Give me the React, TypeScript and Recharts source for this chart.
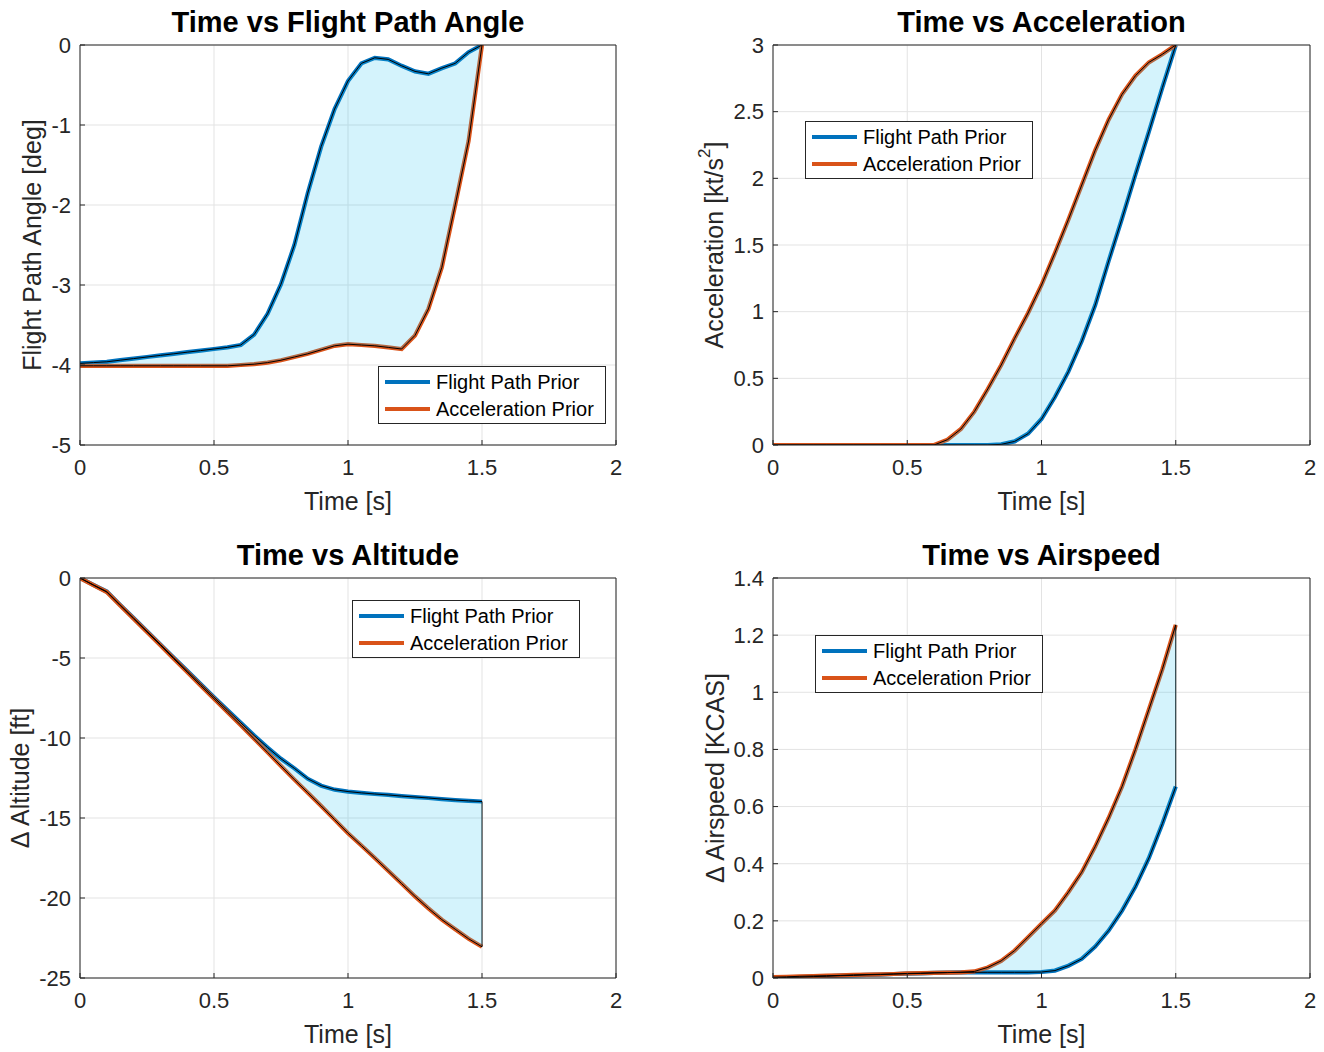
import { ReactNode } from 'react';
import {
  ComposedChart,
  Line,
  Area,
  XAxis,
  YAxis,
  CartesianGrid,
  ReferenceLine,
  Legend
} from 'recharts';

// time samples [s]
const TIME = [
  0, 0.05, 0.1, 0.15, 0.2, 0.25, 0.3, 0.35, 0.4, 0.45, 0.5, 0.55, 0.6, 0.65, 0.7, 0.75,
  0.8, 0.85, 0.9, 0.95, 1, 1.05, 1.1, 1.15, 1.2, 1.25, 1.3, 1.35, 1.4, 1.45, 1.5
];

// flight path angle [deg]
const FPA_FLIGHT = [
  -3.98, -3.97, -3.96, -3.94, -3.92, -3.9, -3.88, -3.86, -3.84, -3.82, -3.8, -3.78, -3.75,
  -3.62, -3.36, -2.99, -2.5, -1.85, -1.27, -0.8, -0.45, -0.23, -0.16, -0.18, -0.26, -0.33,
  -0.36, -0.29, -0.23, -0.09, 0
];
const FPA_ACCEL = [
  -4.01, -4.01, -4.01, -4.01, -4.01, -4.01, -4.01, -4.01, -4.01, -4.01, -4.01, -4.01, -4.0,
  -3.99, -3.97, -3.94, -3.9, -3.86, -3.81, -3.76, -3.74, -3.75, -3.76, -3.78, -3.8, -3.63,
  -3.3, -2.78, -2.0, -1.2, 0
];

// acceleration [kt/s^2]
const ACC_FLIGHT = [
  0, 0, 0, 0, 0, 0, 0, 0, 0, 0, 0, 0, 0, 0, 0, 0, 0, 0.005, 0.027, 0.085, 0.195, 0.36, 0.55,
  0.78, 1.05, 1.38, 1.7, 2.03, 2.35, 2.68, 3.0
];
const ACC_ACCEL = [
  0, 0, 0, 0, 0, 0, 0, 0, 0, 0, 0, 0, 0, 0.04, 0.12, 0.25, 0.42, 0.6, 0.8, 0.99, 1.2, 1.44,
  1.69, 1.95, 2.21, 2.44, 2.63, 2.77, 2.87, 2.93, 3.0
];

// delta altitude [ft]
const ALT_FLIGHT = [
  0, -0.43, -0.85, -1.68, -2.5, -3.33, -4.15, -4.98, -5.8, -6.62, -7.45, -8.25, -9.05, -9.85,
  -10.6, -11.3, -11.9, -12.55, -12.98, -13.23, -13.35, -13.43, -13.5, -13.56, -13.63, -13.69,
  -13.75, -13.82, -13.88, -13.93, -13.97
];
const ALT_ACCEL = [
  0, -0.45, -0.88, -1.72, -2.55, -3.38, -4.2, -5.05, -5.88, -6.72, -7.55, -8.38, -9.2, -10.05,
  -10.9, -11.75, -12.6, -13.42, -14.25, -15.1, -15.95, -16.72, -17.5, -18.3, -19.1, -19.9,
  -20.65, -21.35, -21.95, -22.55, -23.05
];

// delta airspeed [KCAS]
const SPD_FLIGHT = [
  0, 0.002, 0.003, 0.005, 0.006, 0.008, 0.009, 0.011, 0.012, 0.014, 0.015, 0.016, 0.018, 0.019,
  0.02, 0.02, 0.02, 0.02, 0.02, 0.02, 0.021, 0.026, 0.043, 0.067, 0.11, 0.166, 0.236, 0.32,
  0.42, 0.54, 0.67
];
const SPD_ACCEL = [
  0.003, 0.004, 0.006, 0.007, 0.008, 0.009, 0.011, 0.012, 0.013, 0.014, 0.016, 0.017, 0.018,
  0.019, 0.02, 0.023, 0.037, 0.06, 0.096, 0.143, 0.19, 0.236, 0.3, 0.37, 0.46, 0.56, 0.67, 0.8,
  0.94, 1.08, 1.236
];

const X_TICKS = [0, 0.5, 1, 1.5, 2];
const FPA_TICKS = [-5, -4, -3, -2, -1, 0];
const ACC_TICKS = [0, 0.5, 1, 1.5, 2, 2.5, 3];
const ALT_TICKS = [-25, -20, -15, -10, -5, 0];
const SPD_TICKS = [0, 0.2, 0.4, 0.6, 0.8, 1, 1.2, 1.4];

const SERIES = [
  { key: 'fp', name: 'Flight Path Prior', color: '#0072BD' },
  { key: 'ac', name: 'Acceleration Prior', color: '#D95319' }
];

const FONT = '"Liberation Sans", Arial, Helvetica, sans-serif';
const INK = '#262626';
const GRID = '#e3e3e3';

function buildRows(flight: number[], accel: number[]) {
  return TIME.map((t, i) => ({ t, fp: flight[i], ac: accel[i], band: [flight[i], accel[i]] }));
}

function LegendBox() {
  return (
    <div
      style={{
        width: 226,
        height: 55,
        border: `1px solid ${INK}`,
        background: '#fff',
        paddingTop: 1,
        fontFamily: FONT,
        fontSize: 20,
        color: '#000',
        boxSizing: 'content-box'
      }}
    >
      {SERIES.map(s => (
        <div key={s.key} style={{ height: 27, display: 'flex', alignItems: 'center' }}>
          <div style={{ width: 45, height: 4, marginLeft: 6, marginRight: 6, background: s.color }} />
          <span style={{ lineHeight: 1, whiteSpace: 'nowrap' }}>{s.name}</span>
        </div>
      ))}
    </div>
  );
}

interface PanelProps {
  left: number;
  top: number;
  width: number;
  height: number;
  title: string;
  yLabel: ReactNode;
  yLabelX: number;
  yTicks: number[];
  flight: number[];
  accel: number[];
  legendLeft: number;
  legendTop: number;
}

function Panel({
  left,
  top,
  width,
  height,
  title,
  yLabel,
  yLabelX,
  yTicks,
  flight,
  accel,
  legendLeft,
  legendTop
}: PanelProps) {
  const data = buildRows(flight, accel);
  const boxLeft = left - 80;
  const boxTop = top - 45;
  const W = 80 + width + 30;
  const H = 45 + height + 75;
  const last = TIME.length - 1;
  const yDomain = [yTicks[0], yTicks[yTicks.length - 1]];
  const tickStyle = { fill: INK, fontSize: 22, fontFamily: FONT };

  return (
    <>
      <div style={{ position: 'absolute', left: boxLeft, top: boxTop, width: W, height: H }}>
        <ComposedChart width={W} height={H} data={data} margin={{ top: 45, left: 20, right: 30, bottom: 25 }}>
          <CartesianGrid stroke={GRID} strokeWidth={1} />
          <XAxis
            dataKey="t"
            type="number"
            domain={[0, 2]}
            ticks={X_TICKS}
            allowDataOverflow
            interval={0}
            height={50}
            tick={tickStyle}
            tickSize={-5}
            tickMargin={19}
            axisLine={{ stroke: INK }}
            tickLine={{ stroke: INK }}
          />
          <XAxis
            xAxisId="top"
            orientation="top"
            mirror
            type="number"
            domain={[0, 2]}
            ticks={X_TICKS}
            allowDataOverflow
            interval={0}
            tick={false}
            tickSize={5}
            axisLine={{ stroke: INK }}
            tickLine={{ stroke: INK }}
          />
          <YAxis
            type="number"
            domain={yDomain}
            ticks={yTicks}
            allowDataOverflow
            interval={0}
            width={60}
            tick={tickStyle}
            tickSize={-5}
            tickMargin={14}
            axisLine={{ stroke: INK }}
            tickLine={{ stroke: INK }}
          />
          <YAxis
            yAxisId="right"
            orientation="right"
            mirror
            type="number"
            domain={yDomain}
            ticks={yTicks}
            allowDataOverflow
            interval={0}
            tick={false}
            tickSize={5}
            axisLine={{ stroke: INK }}
            tickLine={{ stroke: INK }}
          />
          {SERIES.map(s => (
            <Line
              key={s.key}
              type="linear"
              dataKey={s.key}
              name={s.name}
              stroke={s.color}
              strokeWidth={4.2}
              dot={false}
              activeDot={false}
              isAnimationActive={false}
            />
          ))}
          <Area
            type="linear"
            dataKey="band"
            stroke="#000"
            strokeWidth={1}
            fill="#29c4f2"
            fillOpacity={0.2}
            isAnimationActive={false}
            zIndex={450}
            legendType="none"
          />
          <ReferenceLine
            segment={[
              { x: TIME[last], y: flight[last] },
              { x: TIME[last], y: accel[last] }
            ]}
            stroke="#000"
            strokeWidth={1}
          />
          <Legend
            layout="horizontal"
            verticalAlign="middle"
            align="center"
            content={() => <LegendBox />}
            wrapperStyle={{ left: legendLeft - boxLeft, top: legendTop - boxTop, width: 228, height: 57 }}
          />
        </ComposedChart>
      </div>
      <div
        style={{
          position: 'absolute',
          left: left + width / 2,
          top: top - 23,
          transform: 'translate(-50%, -50%)',
          fontFamily: FONT,
          fontWeight: 'bold',
          fontSize: 29,
          lineHeight: 1,
          whiteSpace: 'nowrap',
          color: '#000'
        }}
      >
        {title}
      </div>
      <div
        style={{
          position: 'absolute',
          left: left + width / 2,
          top: top + height + 56,
          transform: 'translate(-50%, -50%)',
          fontFamily: FONT,
          fontSize: 25,
          lineHeight: 1,
          whiteSpace: 'nowrap',
          color: INK
        }}
      >
        Time [s]
      </div>
      <div
        style={{
          position: 'absolute',
          left: yLabelX,
          top: top + height / 2,
          transform: 'translate(-50%, -50%) rotate(-90deg)',
          fontFamily: FONT,
          fontSize: 25,
          lineHeight: 1,
          whiteSpace: 'nowrap',
          color: INK
        }}
      >
        {yLabel}
      </div>
    </>
  );
}

export default function App() {
  return (
    <div style={{ position: 'absolute', left: 0, top: 0, width: 1324, height: 1052, background: '#fff' }}>
      <Panel
        left={80}
        top={45}
        width={536}
        height={400}
        title="Time vs Flight Path Angle"
        yLabel="Flight Path Angle [deg]"
        yLabelX={32}
        yTicks={FPA_TICKS}
        flight={FPA_FLIGHT}
        accel={FPA_ACCEL}
        legendLeft={378}
        legendTop={366}
      />
      <Panel
        left={773}
        top={45}
        width={537}
        height={400}
        title="Time vs Acceleration"
        yLabel={
          <span>
            Acceleration [kt/s<sup style={{ fontSize: 17, verticalAlign: 'top', position: 'relative', top: -6 }}>2</sup>]
          </span>
        }
        yLabelX={714}
        yTicks={ACC_TICKS}
        flight={ACC_FLIGHT}
        accel={ACC_ACCEL}
        legendLeft={805}
        legendTop={121}
      />
      <Panel
        left={80}
        top={578}
        width={536}
        height={400}
        title="Time vs Altitude"
        yLabel="Δ Altitude [ft]"
        yLabelX={20}
        yTicks={ALT_TICKS}
        flight={ALT_FLIGHT}
        accel={ALT_ACCEL}
        legendLeft={352}
        legendTop={600}
      />
      <Panel
        left={773}
        top={578}
        width={537}
        height={400}
        title="Time vs Airspeed"
        yLabel="Δ Airspeed [KCAS]"
        yLabelX={715}
        yTicks={SPD_TICKS}
        flight={SPD_FLIGHT}
        accel={SPD_ACCEL}
        legendLeft={815}
        legendTop={635}
      />
    </div>
  );
}
